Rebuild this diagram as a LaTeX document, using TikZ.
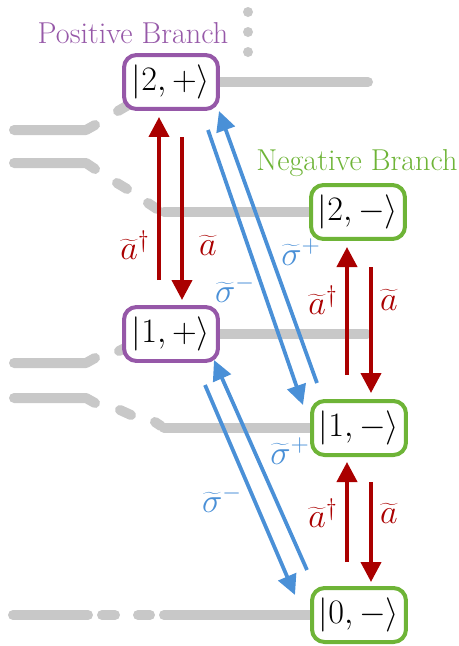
\RequirePackage{fix-cm}
\documentclass[tikz,border=0pt]{standalone}
\usepackage{fontspec}
\usetikzlibrary{arrows.meta}
\pgfdeclarelayer{background}
\pgfsetlayers{background,main}
\definecolor{pur}{RGB}{150,88,168}
\definecolor{grn}{RGB}{110,180,55}
\definecolor{dred}{RGB}{170,0,0}
\definecolor{blu}{RGB}{74,144,215}
\definecolor{lgray}{RGB}{200,200,200}
\begin{document}
\begin{tikzpicture}[x=0.02cm,y=-0.02cm,
  lvl/.style={line width=0.2cm, line cap=round, line join=round, draw=lgray},
  statebox/.style={line width=0.08cm, rounded corners=0.25cm, fill=white,
    minimum width=1.88cm, minimum height=1.08cm, inner sep=0pt,
    font=\fontsize{19.5}{22}\selectfont},
  pbox/.style={statebox, draw=pur},
  nbox/.style={statebox, draw=grn},
  redarr/.style={draw=dred, line width=0.08cm, -{Triangle[width=0.4cm,length=0.4cm]}},
  bluarr/.style={draw=blu, line width=0.075cm, -{Triangle[width=0.38cm,length=0.4cm]}},
  redlab/.style={text=dred, font=\fontsize{19.5}{22}\selectfont, inner sep=0pt},
  blulab/.style={text=blu, font=\fontsize{19.5}{22}\selectfont, inner sep=0pt},
  branch/.style={font=\fontsize{17.2}{20}\selectfont, inner sep=0pt}
]
\useasboundingbox (0,0) rectangle (459,646);

% state nodes
\node[pbox] (p2) at (171,82) {$|2,+\rangle$};
\node[pbox] (p1) at (171,334) {$|1,+\rangle$};
\node[nbox] (n2) at (358,212) {$|2,-\rangle$};
\node[nbox] (n1) at (359,428) {$|1,-\rangle$};
\node[nbox] (n0) at (359,615) {$|0,-\rangle$};

% gray level lines (behind boxes)
\coordinate (r2) at (368,82);
\coordinate (r1) at (367,334);
\coordinate (l2) at (164,212);
\coordinate (l1) at (164,428);
\coordinate (l0) at (164,615);
\begin{pgfonlayer}{background}
\draw[lvl] (14,130) -- (86,130) -- (95,125);
\draw[lvl] (118,111) -- (130,104);
\draw[lvl] (14,163) -- (86,163) -- (95,169);
\draw[lvl] (117,183) -- (127,189);
\draw[lvl] (148,203) -- (157,209);
\draw[lvl] (14,363) -- (86,363) -- (95,358);
\draw[lvl] (119,351) -- (131,345);
\draw[lvl] (14,398) -- (86,398) -- (95,403);
\draw[lvl] (120,410) -- (131,415);
\draw[lvl] (155,422) -- (161,426);
\draw[lvl] (13,615) -- (88,615);
\draw[lvl] (102,615) -- (115,615);
\draw[lvl] (138,615) -- (150,615);
\fill[lgray] (248,12) circle (0.1cm);
\fill[lgray] (248,32) circle (0.1cm);
\fill[lgray] (248,52) circle (0.1cm);
\draw[lvl] (p2.east) -- (r2);
\draw[lvl] (p1.east) -- (r1);
\draw[lvl] (l2) -- (n2.west);
\draw[lvl] (l1) -- (n1.west);
\draw[lvl] (l0) -- (n0.west);
\end{pgfonlayer}

% branch labels
\node[branch, text=pur] (pb) at (133,33) {Positive Branch};
\node[branch, text=grn] (nb) at (357,163) {Negative Branch};

% red arrows
\coordinate (ra1s) at (159,280); \coordinate (ra1e) at (159,117);
\coordinate (rb1s) at (182,137); \coordinate (rb1e) at (182,300);
\coordinate (ra2s) at (347,375); \coordinate (ra2e) at (347,247);
\coordinate (rb2s) at (371,267); \coordinate (rb2e) at (371,393);
\coordinate (ra3s) at (347,562); \coordinate (ra3e) at (347,462);
\coordinate (rb3s) at (371,482); \coordinate (rb3e) at (371,582);
\draw[redarr] (ra1s) -- (ra1e);
\draw[redarr] (rb1s) -- (rb1e);
\draw[redarr] (ra2s) -- (ra2e);
\draw[redarr] (rb2s) -- (rb2e);
\draw[redarr] (ra3s) -- (ra3e);
\draw[redarr] (rb3s) -- (rb3e);

% blue arrows
\coordinate (ba1s) at (317,383); \coordinate (ba1e) at (219,111);
\coordinate (bb1s) at (208,130); \coordinate (bb1e) at (303,405);
\coordinate (ba2s) at (307,570); \coordinate (ba2e) at (214,360);
\coordinate (bb2s) at (205,385); \coordinate (bb2e) at (295,595);
\draw[bluarr] (ba1s) -- (ba1e);
\draw[bluarr] (bb1s) -- (bb1e);
\draw[bluarr] (ba2s) -- (ba2e);
\draw[bluarr] (bb2s) -- (bb2e);

% operator labels
\node[redlab] (la1) at (135,245) {$\widetilde{a}^\dagger$};
\node[redlab] (lb1) at (208,245) {$\widetilde{a}$};
\node[redlab] (la2) at (323,300) {$\widetilde{a}^\dagger$};
\node[redlab] (lb2) at (389,300) {$\widetilde{a}$};
\node[redlab] (la3) at (323,513) {$\widetilde{a}^\dagger$};
\node[redlab] (lb3) at (389,513) {$\widetilde{a}$};
\node[blulab] (sp1) at (301,252) {$\widetilde{\sigma}^+$};
\node[blulab] (sm1) at (235,289) {$\widetilde{\sigma}^-$};
\node[blulab] (sp2) at (290,451) {$\widetilde{\sigma}^+$};
\node[blulab] (sm2) at (222,499) {$\widetilde{\sigma}^-$};
\end{tikzpicture}
\end{document}
